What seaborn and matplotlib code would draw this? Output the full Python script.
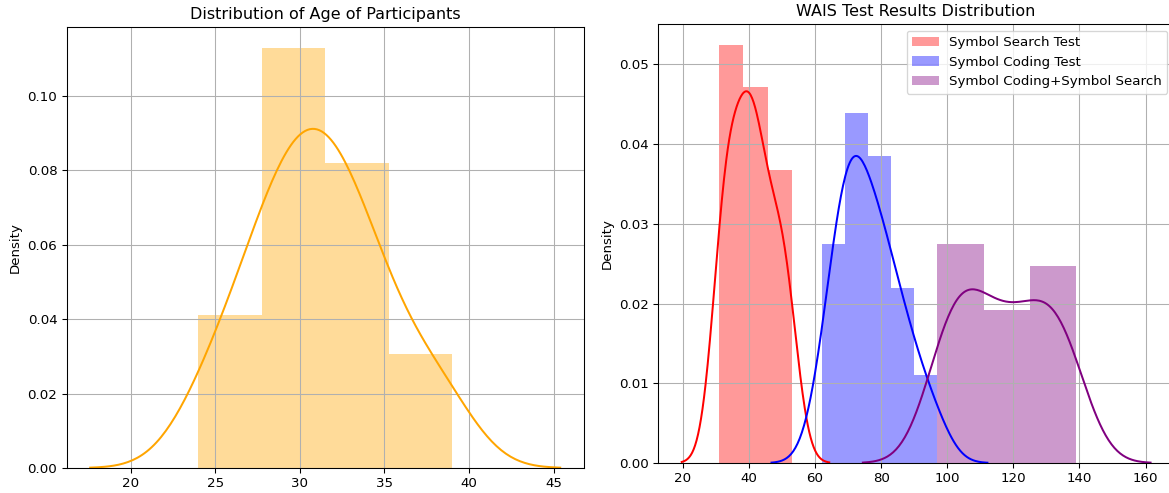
import numpy as np
import pandas as pd
import matplotlib
matplotlib.use("Agg")
import matplotlib.pyplot as plt
import seaborn as sns

# ages of the 26 participants
age = [24, 25, 26, 27,
       28, 28, 28, 29, 29, 30, 30, 31, 31, 31, 31,
       32, 32, 33, 33, 34, 34, 35, 35,
       37, 38, 39]

# WAIS scores
symbol_search = [31, 31, 32, 33, 33, 34, 35, 36, 37, 38,
                 39, 40, 40, 41, 41, 42, 43, 44, 45,
                 46, 48, 49, 50, 51, 52, 53]
symbol_coding = [62, 64, 65, 67, 68,
                 69, 70, 70, 71, 72, 72, 73, 74,
                 76, 77, 78, 79, 80, 81, 82,
                 84, 86, 88, 89,
                 93, 97]
coding_plus_search = [97, 98, 99, 101, 103, 104, 105, 106, 108, 110,
                      112, 114, 116, 118, 120, 122, 124,
                      126, 128, 130, 131, 133, 134, 136, 138, 139]

series_labels = ["Symbol Search Test", "Symbol Coding Test", "Symbol Coding+Symbol Search"]
series_colors = ["red", "blue", "purple"]
series_bins = [3, 5, 3]

W, H = 1169, 493
fig = plt.figure(figsize=(W / 96, H / 96), dpi=96)
ax1 = fig.add_axes([66.7 / W, 25 / H, 517 / W, 440.7 / H])
ax2 = fig.add_axes([658.3 / W, 30 / H, 515.7 / W, 439 / H])

# left: age
sns.histplot(x=age, bins=4, stat="density", color="orange", alpha=0.4,
             linewidth=0, ax=ax1)
sns.kdeplot(x=age, cut=3, bw_adjust=1.06, color="orange", linewidth=1.5, ax=ax1)
ax1.set_title("Distribution of Age of Participants")
ax1.set_ylabel("Density")
ax1.grid(True)

# right: WAIS tests
for vals, lab, col, nb in zip([symbol_search, symbol_coding, coding_plus_search],
                              series_labels, series_colors, series_bins):
    sns.histplot(x=vals, bins=nb, stat="density", color=col, alpha=0.4,
                 linewidth=0, label=lab, ax=ax2)
    sns.kdeplot(x=vals, cut=3, bw_adjust=1.06, color=col, linewidth=1.5, ax=ax2)

ax2.set_title("WAIS Test Results Distribution")
ax2.set_ylabel("Density")
ax2.grid(True)
ax2.legend(loc="upper right")

fig.savefig("out.png", dpi=96)
